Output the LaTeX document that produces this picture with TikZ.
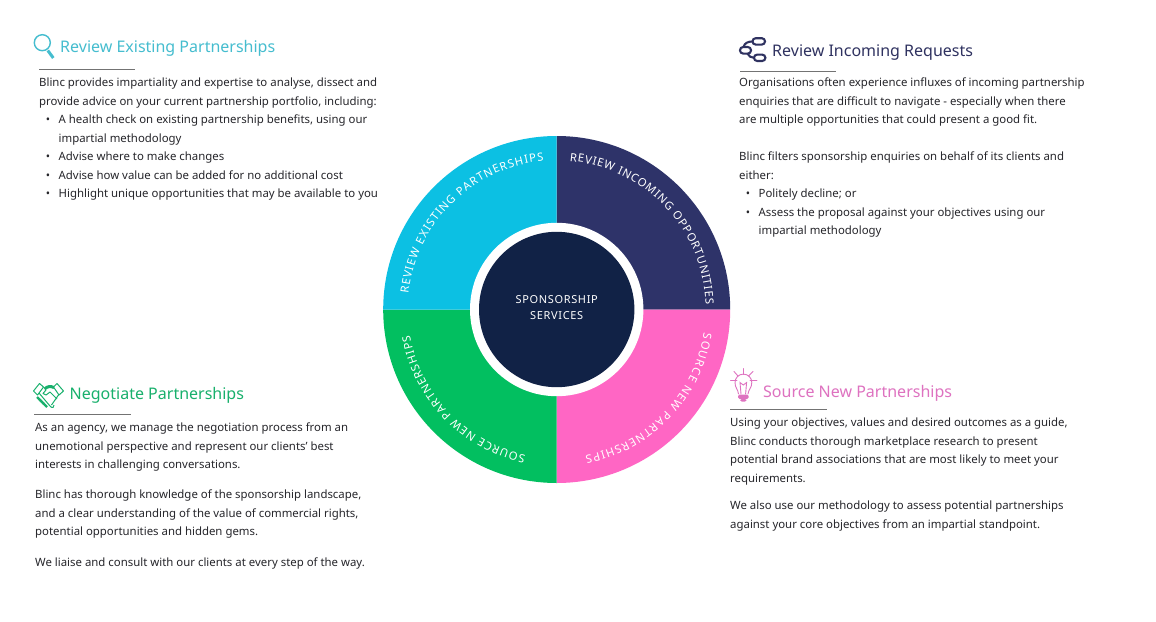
\documentclass[tikz,border=0pt]{standalone}
\usepackage{fontspec}
\setmainfont{Noto Sans}
\usetikzlibrary{decorations.text}
\definecolor{cCyan}{HTML}{0CC0E3}
\definecolor{cNavy}{HTML}{2E3369}
\definecolor{cGreen}{HTML}{02BF60}
\definecolor{cPink}{HTML}{FF66C4}
\definecolor{cCore}{HTML}{112246}
\definecolor{hCyan}{HTML}{45BDCF}
\definecolor{hNavy}{HTML}{2F3260}
\definecolor{hGreen}{HTML}{18B06C}
\definecolor{hPink}{HTML}{DE72C0}
\definecolor{bodyc}{HTML}{26262B}
\newcommand{\bul}{\hspace*{19.5pt}\llap{\textbullet\hspace{8.5pt}}}
\newcommand{\cont}{\hspace*{19.5pt}}
\newcommand{\arcfont}{\fontsize{11.3}{13}\selectfont}
\tikzset{
  bodytext/.style={anchor=north west,inner sep=0pt,align=left,text=bodyc,font=\fontsize{11.4}{18.45}\selectfont},
  headtext/.style={anchor=base west,inner sep=0pt,font=\fontsize{16}{20}\selectfont\bfseries},
  rulegray/.style={draw=black!55,line width=0.9pt},
  ringtext/.style={postaction={decoration={text along path,text align={fit to path},text color=white,text={|\arcfont|#1}},decorate}},
}
\begin{document}
\begin{tikzpicture}[x=1pt,y=-1pt]
\useasboundingbox (0,0) rectangle (1156,621);
\fill[white] (0,0) rectangle (1156,621);
% wheel
\begin{scope}[shift={(556.7,309.5)},y=1pt]
\fill[cNavy] (0,0) -- (0,173.5) arc[start angle=90,end angle=0,radius=173.5] -- cycle;
\fill[cPink] (0,0) -- (173.5,0) arc[start angle=0,end angle=-90,radius=173.5] -- cycle;
\fill[cGreen] (0,0) -- (0,-173.5) arc[start angle=270,end angle=180,radius=173.5] -- cycle;
\fill[cCyan] (0,0) -- (-173.5,0) arc[start angle=180,end angle=90,radius=173.5] -- cycle;
\fill[white] (0,0) circle[radius=86.7];
\fill[cCore] (0,0) circle[radius=77.7];
\path[ringtext={REVIEW INCOMING OPPORTUNITIES}] (85:149) arc[start angle=85,end angle=2,radius=149];
\path[ringtext={REVIEW EXISTING  PARTNERSHIPS}] (174:149) arc[start angle=174,end angle=95,radius=149];
\path[ringtext={SOURCE NEW PARTNERSHIPS}] (-9:149) arc[start angle=-9,end angle=-79,radius=149];
\path[ringtext={SOURCE NEW PARTNERSHIPS}] (258:149) arc[start angle=258,end angle=190,radius=149];
\end{scope}
\node[inner sep=0pt,align=center,text=white,font=\fontsize{11}{16}\selectfont\addfontfeature{LetterSpace=6}] (core) at (556.7,308) {SPONSORSHIP\\SERVICES};
% headings
\node[headtext,text=hCyan] (h1) at (60,52) {Review Existing Partnerships};
\node[headtext,text=hNavy] (h2) at (772,56) {Review Incoming Requests};
\node[headtext,text=hGreen] (h3) at (69.5,399.5) {Negotiate Partnerships};
\node[headtext,text=hPink] (h4) at (763,397) {Source New Partnerships};
% rules
\draw[rulegray] (39,69) -- (135,69);
\draw[rulegray] (740,71) -- (836,71);
\draw[rulegray] (34,414.5) -- (131,414.5);
\draw[rulegray] (730,409.5) -- (827,409.5);
% magnifier icon
\draw[hCyan,line width=1.4pt] (42.3,42.7) circle[radius=8];
\draw[hCyan,line width=3pt] (47.8,50.5) -- (53.3,58);
% nodes icon
\begin{scope}[hNavy,line width=2.1pt]
\draw[rounded corners=3.2pt] (752.5,38.2) rectangle (765,44.6);
\draw[rounded corners=3.2pt] (740,47) rectangle (751,53.6);
\draw[rounded corners=3.2pt] (754,54.6) rectangle (765.4,61);
\draw (743.5,47) .. controls (744.5,43) and (748,41.5) .. (752.5,41.5);
\draw (747.5,53.6) .. controls (748.5,56) and (751,57.8) .. (754,57.8);
\end{scope}
% handshake icon
\begin{scope}[hGreen,line width=1pt,line join=round]
\draw (33.5,391) -- (39.5,383.5) -- (43.5,387) -- (37.5,395) -- cycle;
\draw (63.5,391) -- (57,383.5) -- (53.5,387) -- (59,395) -- cycle;
\draw (39,393) -- (50,406) .. controls (52,409) and (55,407) .. (54,405);
\draw (58.5,395) -- (51.5,405);
\draw (46,390) -- (43,393.5) -- (46,395) -- (50,392) -- (57,399);
\draw[line width=3pt] (44.5,389) .. controls (48,386) and (50,386) .. (54,387.5);
\draw[line width=2.4pt] (37,397) -- (41.5,401.5);
\draw[line width=2.4pt] (39.5,399.5) -- (44,404);
\draw[line width=2.4pt] (42.5,402.5) -- (47,407);
\end{scope}
% bulb icon
\begin{scope}[hPink,line width=0.9pt,line cap=round]
\draw (738.5,394) .. controls (738,389) and (735,388) .. (735,382.5) arc[start angle=180,end angle=360,radius=8.4] .. controls (751.8,388) and (748.5,389) .. (748,394);
\draw (741,394) -- (740,382.5) -- (743.3,385) -- (746.6,382.5) -- (745.6,394);
\draw (743.3,368.5) -- (743.3,374.5);
\draw (730.5,380) -- (737,380);
\draw (750,380) -- (757,380);
\draw (734,371.5) -- (738,376);
\draw (753,371.5) -- (748.5,376);
\fill[rounded corners=1.5pt] (738,394.5) rectangle (748.5,399);
\fill[rounded corners=1.5pt] (740,399) rectangle (746.5,401.5);
\end{scope}
% bodies
\node[bodytext] (b1) at (39,78) {Blinc provides impartiality and expertise to analyse, dissect and\\
provide advice on your current partnership portfolio, including:\\
\bul A health check on existing partnership benefits, using our\\
\cont impartial methodology\\
\bul Advise where to make changes\\
\bul Advise how value can be added for no additional cost\\
\bul Highlight unique opportunities that may be available to you};
\node[bodytext] (b2a) at (739,78) {Organisations often experience influxes of incoming partnership\\
enquiries that are difficult to navigate - especially when there\\
are multiple opportunities that could present a good fit.};
\node[bodytext] (b2b) at (739,152) {Blinc filters sponsorship enquiries on behalf of its clients and\\
either:\\
\bul Politely decline; or\\
\bul Assess the proposal against your objectives using our\\
\cont impartial methodology};
\node[bodytext] (b3a) at (35,423) {As an agency, we manage the negotiation process from an\\
unemotional perspective and represent our clients' best\\
interests in challenging conversations.};
\node[bodytext] (b3b) at (35,490) {Blinc has thorough knowledge of the sponsorship landscape,\\
and a clear understanding of the value of commercial rights,\\
potential opportunities and hidden gems.};
\node[bodytext] (b3c) at (35,558) {We liaise and consult with our clients at every step of the way.};
\node[bodytext] (b4a) at (730,418) {Using your objectives, values and desired outcomes as a guide,\\
Blinc conducts thorough marketplace research to present\\
potential brand associations that are most likely to meet your\\
requirements.};
\node[bodytext] (b4b) at (730,501) {We also use our methodology to assess potential partnerships\\
against your core objectives from an impartial standpoint.};
\end{tikzpicture}
\end{document}
